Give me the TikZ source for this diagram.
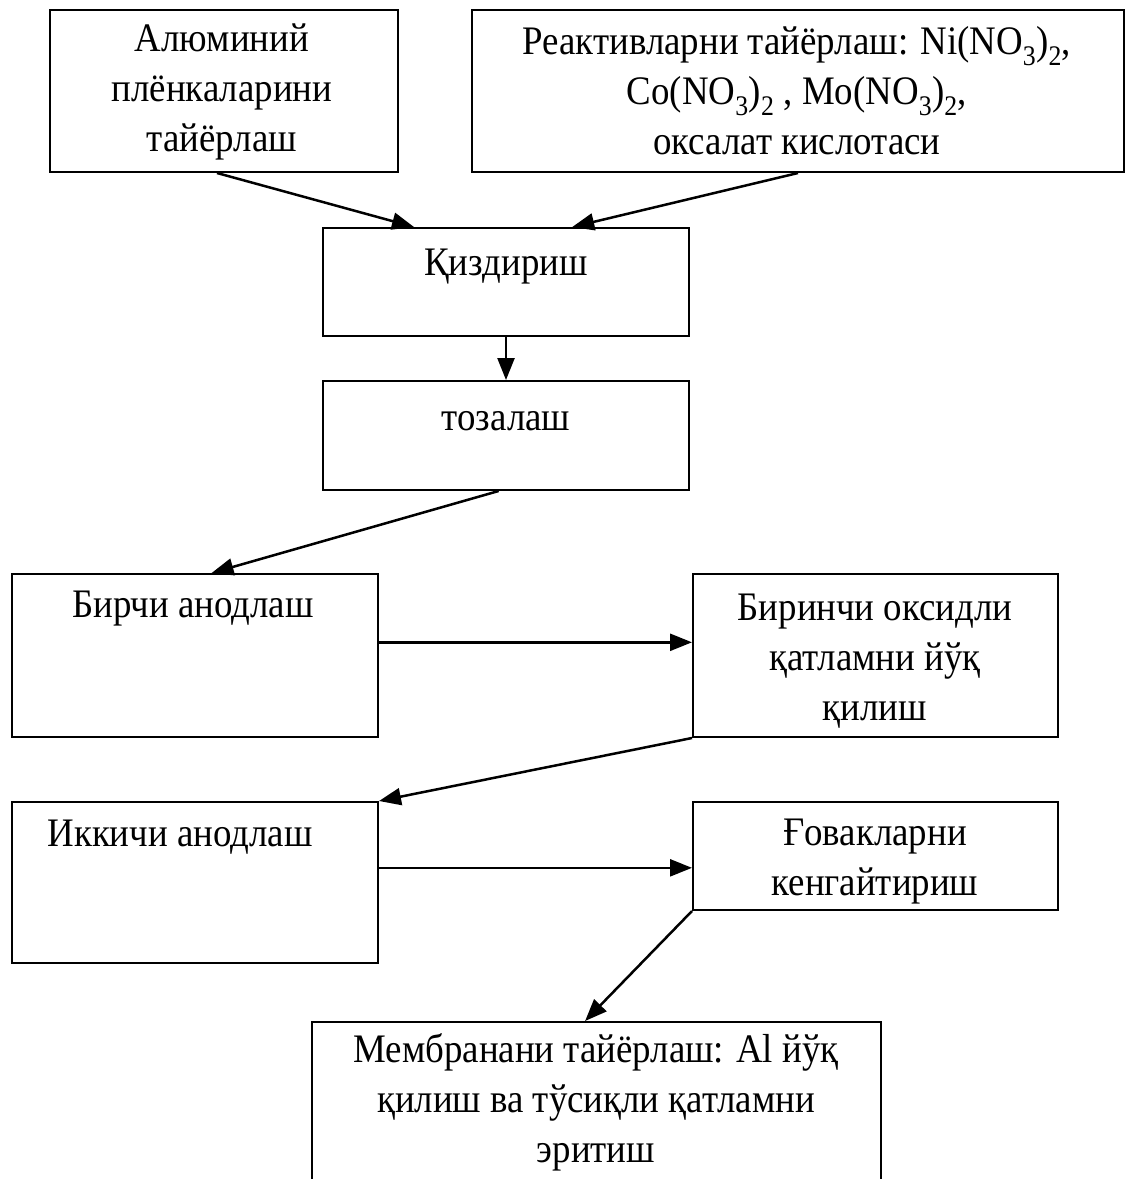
\documentclass[tikz,border=0pt]{standalone}
\usepackage{fontspec}
\setmainfont{Liberation Serif}[FakeStretch=0.91]
\usetikzlibrary{arrows.meta,calc}
\begin{document}
\begin{tikzpicture}[x=1pt,y=-1pt,
  box/.style={draw,line width=2pt,inner sep=0pt},
  lbl/.style={font=\fontsize{40.5}{50}\selectfont,align=center,inner sep=0pt},
  arr/.style={line width=2.5pt,-{Triangle[length=22pt,width=17pt]}}]
\useasboundingbox (0,0) rectangle (1131,1179);
\clip (0,0) rectangle (1131,1179);
% boxes
\node[box,minimum width=348pt,minimum height=162pt] (b1) at (224,91) {};
\node[box,minimum width=652pt,minimum height=162pt] (b2) at (798,91) {};
\node[box,minimum width=366pt,minimum height=108pt] (b3) at (506,282) {};
\node[box,minimum width=366pt,minimum height=109pt] (b4) at (506,435.5) {};
\node[box,minimum width=366pt,minimum height=163pt] (b5) at (195,655.5) {};
\node[box,minimum width=365pt,minimum height=163pt] (b6) at (875.5,655.5) {};
\node[box,minimum width=366pt,minimum height=161pt] (b7) at (195,882.5) {};
\node[box,minimum width=365pt,minimum height=108pt] (b8) at (875.5,856) {};
\node[box,minimum width=569pt,minimum height=218pt] (b9) at (596.5,1131) {};
% texts
\node[lbl] (t1) at (222,92) {Алюминий\\плёнкаларини\\тайёрлаш};
\node[lbl] (t2) at (797,91) {Реактивларни тайёрлаш: Ni(NO\textsubscript{3})\textsubscript{2},\\Co(NO\textsubscript{3})\textsubscript{2} , Mo(NO\textsubscript{3})\textsubscript{2},\\оксалат кислотаси};
\node[lbl] (t3) at (506,267) {Қиздириш};
\node[lbl] (t4) at (506,421) {тозалаш};
\node[lbl] (t5) at (193,609) {Бирчи анодлаш};
\node[lbl] (t6) at (875,661) {Биринчи оксидли\\қатламни йўқ\\қилиш};
\node[lbl] (t7) at (180,837) {Иккичи анодлаш};
\node[lbl] (t8) at (875,862) {Ғовакларни\\кенгайтириш};
\node[lbl] (t9) at (596,1102) {Мембранани тайёрлаш: Al йўқ\\қилиш ва тўсиқли қатламни\\эритиш};
% arrows
\draw[arr] ($(b1.south west)!0.48!(b1.south east)$) -- ($(b3.north west)!0.25!(b3.north east)$);
\draw[arr] ($(b2.south west)!0.50!(b2.south east)$) -- ($(b3.north west)!0.68!(b3.north east)$);
\draw[arr] (b3.south) -- (b4.north);
\draw[arr] ($(b4.south west)!0.48!(b4.south east)$) -- ($(b5.north west)!0.545!(b5.north east)$);
\coordinate (p5) at ($(b5.north east)!0.42!(b5.south east)$);
\draw[arr] (p5) -- (p5 -| b6.west);
\draw[arr] (b6.south west) -- (b7.north east);
\coordinate (p7) at ($(b7.north east)!0.41!(b7.south east)$);
\draw[arr] (p7) -- (p7 -| b8.west);
\draw[arr] (b8.south west) -- ($(b9.north west)!0.48!(b9.north east)$);
\end{tikzpicture}
\end{document}
